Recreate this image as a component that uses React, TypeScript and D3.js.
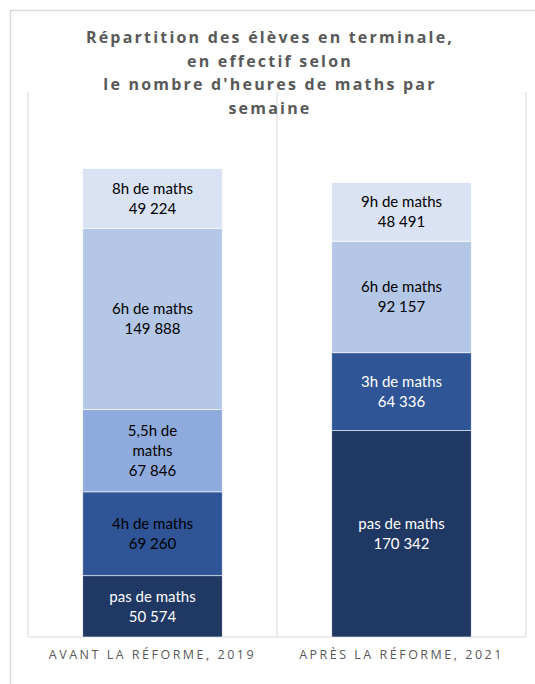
import React from "react";
import * as d3 from "d3";

const categories = ["AVANT LA RÉFORME, 2019", "APRÈS LA RÉFORME, 2021"];
const labels2019 = ["pas de maths", "4h de maths", "5,5h de\nmaths", "6h de maths", "8h de maths"];
const values2019 = [50574, 69260, 67846, 149888, 49224];
const labels2021 = ["pas de maths", "3h de maths", "6h de maths", "9h de maths"];
const values2021 = [170342, 64336, 92157, 48491];
const fills2019 = ["#203864", "#2F5597", "#8FAADC", "#B4C7E7", "#DAE3F3"];
const fills2021 = ["#203864", "#2F5597", "#B4C7E7", "#DAE3F3"];
const text2019 = ["#FFFFFF", "#000000", "#000000", "#000000", "#000000"];
const text2021 = ["#FFFFFF", "#FFFFFF", "#000000", "#000000"];
const titleLines = [
  "Répartition des élèves en terminale,",
  "en effectif selon",
  "le nombre d'heures de maths par",
  "semaine",
];

const W = 535;
const H = 684;
const plot = { left: 28, right: 526, top: 92, bottom: 637 };

const fr = d3.formatLocale({ thousands: " ", grouping: [3], decimal: ",", currency: ["", " €"] });
const fmt = fr.format(",d");

export default function App() {
  const x = d3
    .scaleBand<string>()
    .domain(categories)
    .range([plot.left, plot.right])
    .paddingInner(0.44)
    .paddingOuter(0.22);
  const y = d3.scaleLinear().domain([0, 450000]).range([plot.bottom, plot.top]);

  const groups = [
    { cat: categories[0], labels: labels2019, values: values2019, fills: fills2019, texts: text2019 },
    { cat: categories[1], labels: labels2021, values: values2021, fills: fills2021, texts: text2021 },
  ];

  const step = x.step();
  const gridXs = [plot.left, plot.left + step, plot.right];

  return (
    <svg
      width={W}
      height={H}
      style={{ position: "absolute", left: 0, top: 0, background: "#fff" }}
      fontFamily="Lato, 'Open Sans', sans-serif"
    >
      <rect x={10.5} y={10.5} width={560} height={720} fill="#fff" stroke="#D9D9D9" strokeWidth={1.5} />
      {gridXs.map((gx, i) => (
        <line key={i} x1={gx} x2={gx} y1={plot.top} y2={plot.bottom} stroke="#D9D9D9" strokeWidth={1} />
      ))}
      <line x1={plot.left} x2={plot.right} y1={plot.bottom} y2={plot.bottom} stroke="#D9D9D9" strokeWidth={1} />
      {titleLines.map((t, i) => (
        <text
          key={i}
          x={270}
          y={43 + i * 23.5}
          textAnchor="middle"
          fontFamily="'Open Sans', sans-serif"
          fontWeight={700}
          fontSize={16}
          letterSpacing={2.2}
          fill="#595959"
        >
          {t}
        </text>
      ))}
      {groups.map((g) => {
        const bx = x(g.cat)!;
        const bw = x.bandwidth();
        const cum = d3.cumsum(g.values);
        return (
          <g key={g.cat}>
            {g.values.map((v, i) => {
              const y0 = y(cum[i] - v);
              const y1 = y(cum[i]);
              const lines = g.labels[i].split("\n").concat([fmt(v)]);
              const cy = (y0 + y1) / 2;
              const lh = 20;
              const startY = cy - ((lines.length - 1) * lh) / 2;
              return (
                <g key={i}>
                  <rect x={bx} y={y1} width={bw} height={y0 - y1} fill={g.fills[i]} stroke="#fff" strokeWidth={0.6} />
                  {lines.map((l, j) => (
                    <text
                      key={j}
                      x={bx + bw / 2}
                      y={startY + j * lh}
                      dy="0.35em"
                      textAnchor="middle"
                      fontSize={15}
                      fill={g.texts[i]}
                    >
                      {l}
                    </text>
                  ))}
                </g>
              );
            })}
            <text
              x={bx + bw / 2}
              y={655}
              dy="0.35em"
              textAnchor="middle"
              fontFamily="'Open Sans', sans-serif"
              fontSize={12.5}
              letterSpacing={2.5}
              fill="#595959"
            >
              {g.cat}
            </text>
          </g>
        );
      })}
    </svg>
  );
}
